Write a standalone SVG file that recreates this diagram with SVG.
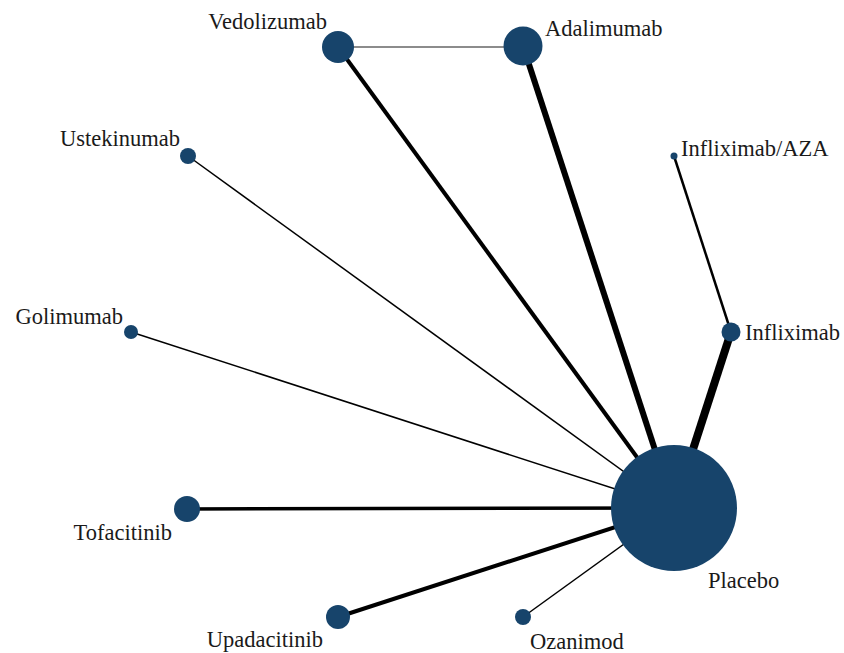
<svg xmlns="http://www.w3.org/2000/svg" width="844" height="653" viewBox="0 0 844 653">
<style>
.n{fill:#17446b}
.e{stroke:#000;stroke-linecap:butt}
.t{font-family:"Times New Roman","Liberation Serif","DejaVu Serif",serif;font-size:22.5px;fill:#1a1a1a}
</style>
<rect width="844" height="653" fill="#fff"/>
<g id="connectors">
<line x1="338" y1="47" x2="523" y2="47" stroke="#666" stroke-width="1.5"/>
<line class="e" x1="338" y1="47" x2="674" y2="508" stroke-width="4"/>
<line class="e" x1="523" y1="46" x2="674" y2="508" stroke-width="6"/>
<line class="e" x1="674" y1="156" x2="731" y2="332" stroke-width="2.5"/>
<line class="e" x1="731" y1="332" x2="674" y2="508" stroke-width="8"/>
<line class="e" x1="188" y1="156" x2="674" y2="508" stroke-width="1.5"/>
<line class="e" x1="131" y1="332" x2="674" y2="508" stroke-width="1.5"/>
<line class="e" x1="187" y1="509" x2="674" y2="508" stroke-width="3.5"/>
<line class="e" x1="338" y1="617" x2="674" y2="508" stroke-width="4"/>
<line class="e" x1="523" y1="617" x2="674" y2="508" stroke-width="1.5"/>
</g>
<g id="placebo"><circle class="n" cx="674" cy="508" r="63"/><text class="t" x="708" y="588">Placebo</text></g>
<g id="vedolizumab"><circle class="n" cx="338" cy="47" r="16"/><text class="t" x="327" y="29" text-anchor="end">Vedolizumab</text></g>
<g id="adalimumab"><circle class="n" cx="523" cy="46" r="19.5"/><text class="t" x="545" y="36">Adalimumab</text></g>
<g id="infliximab-aza"><circle class="n" cx="674" cy="156" r="3.5"/><text class="t" x="681" y="156">Infliximab/AZA</text></g>
<g id="infliximab"><circle class="n" cx="731" cy="332" r="9.5"/><text class="t" x="745" y="340">Infliximab</text></g>
<g id="ustekinumab"><circle class="n" cx="188" cy="156" r="8"/><text class="t" x="180" y="146" text-anchor="end">Ustekinumab</text></g>
<g id="golimumab"><circle class="n" cx="131" cy="332" r="7"/><text class="t" x="123" y="324" text-anchor="end">Golimumab</text></g>
<g id="tofacitinib"><circle class="n" cx="187" cy="509" r="13"/><text class="t" x="172" y="540" text-anchor="end">Tofacitinib</text></g>
<g id="upadacitinib"><circle class="n" cx="338" cy="617" r="12"/><text class="t" x="323" y="647" text-anchor="end">Upadacitinib</text></g>
<g id="ozanimod"><circle class="n" cx="523" cy="617" r="8"/><text class="t" x="530" y="649">Ozanimod</text></g>
</svg>
